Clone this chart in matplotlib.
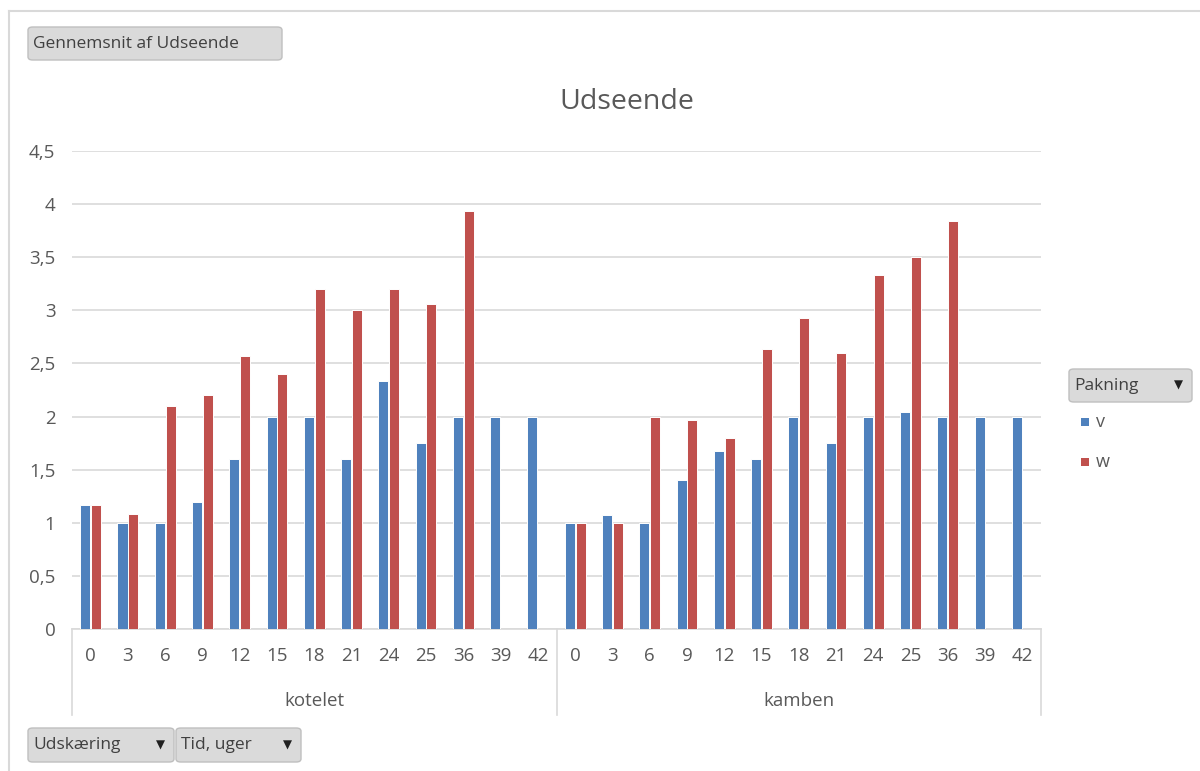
import numpy as np
import matplotlib
matplotlib.use("Agg")
import matplotlib.pyplot as plt
from matplotlib.patches import FancyBboxPatch, Rectangle
from matplotlib.lines import Line2D

plt.rcParams['font.family'] = ['Open Sans', 'DejaVu Sans']

# data
groups = ["kotelet", "kamben"]
weeks = ["0", "3", "6", "9", "12", "15", "18", "21", "24", "25", "36", "39", "42"]
kotelet_v = [1.167, 1.0, 1.0, 1.2, 1.6, 2.0, 2.0, 1.6, 2.333, 1.75, 2.0, 2.0, 2.0]
kotelet_w = [1.167, 1.083, 2.1, 2.2, 2.567, 2.4, 3.2, 3.0, 3.2, 3.055, 3.933, np.nan, np.nan]
kamben_v = [1.0, 1.075, 1.0, 1.4, 1.675, 1.6, 2.0, 1.75, 2.0, 2.04, 2.0, 2.0, 2.0]
kamben_w = [1.0, 1.0, 2.0, 1.967, 1.8, 2.64, 2.925, 2.6, 3.333, 3.5, 3.837, np.nan, np.nan]

BLUE = "#4F81BD"
RED = "#C0504D"
TXT = "#595959"
GRID = "#D9D9D9"

W, H = 1200, 771
fig = plt.figure(figsize=(W / 100, H / 100), dpi=100)


def fx(px):
    return px / W


def fy(py):
    return 1 - py / H


ax = fig.add_axes([fx(72), fy(629), fx(1041) - fx(72), fy(151) - fy(629)])

v = np.array(kotelet_v + kamben_v, dtype=float)
w = np.array(kotelet_w + kamben_w, dtype=float)
x = np.arange(len(v))
bw = 0.27
ax.bar(x - 0.145, v, bw, color=BLUE, edgecolor="white", linewidth=0.7, zorder=3)
ax.bar(x + 0.145, w, bw, color=RED, edgecolor="white", linewidth=0.7, zorder=3)

ax.set_xlim(-0.5, len(v) - 0.5)
ax.set_ylim(0, 4.5)
yt = np.arange(0, 4.51, 0.5)
ax.set_yticks(yt)
ax.set_yticklabels([f"{t:g}".replace(".", ",") for t in yt])
ax.yaxis.grid(True, color=GRID, linewidth=1.2, zorder=0)
ax.set_axisbelow(True)
ax.set_xticks(x)
ax.set_xticklabels(weeks * 2)
ax.tick_params(axis="both", length=0, labelsize=13.5, colors=TXT)
ax.tick_params(axis="x", pad=13)
ax.tick_params(axis="y", pad=12)
for s in ["top", "right", "left"]:
    ax.spines[s].set_visible(False)
ax.spines["bottom"].set_color(GRID)
ax.spines["bottom"].set_linewidth(1.2)

# group separators and labels
depth = (715 - 629) / (629 - 151)
for xs in [0, 0.5, 1]:
    ax.add_line(Line2D([xs, xs], [0, -depth], transform=ax.transAxes,
                       color=GRID, linewidth=1.2, clip_on=False))
for i, g in enumerate(groups):
    ax.text(0.25 + 0.5 * i, -(701 - 629) / (629 - 151), g, transform=ax.transAxes,
            ha="center", va="center", fontsize=13.5, color=TXT)

fig.text(fx(627), fy(102), "Udseende", ha="center", va="center", fontsize=20.5, color=TXT)

# outer chart border
fig.add_artist(Line2D([fx(9), fx(1200)], [fy(11), fy(11)], color="#D9D9D9", linewidth=1.5))
fig.add_artist(Line2D([fx(9), fx(9)], [fy(11), fy(771)], color="#D9D9D9", linewidth=1.5))


def button(x0, y0, x1, y1, label, arrow=False):
    fig.add_artist(FancyBboxPatch((fx(x0), fy(y1)), fx(x1) - fx(x0), fy(y0) - fy(y1),
                                  boxstyle="round,pad=0,rounding_size=0.004",
                                  facecolor="#DADADA", edgecolor="#BFBFBF",
                                  linewidth=1.0, transform=fig.transFigure))
    fig.text(fx(x0 + 5), fy((y0 + y1) / 2), label, ha="left", va="center",
             fontsize=12.5, color="#404040")
    if arrow:
        fig.text(fx(x1 - 14), fy((y0 + y1) / 2), "\u25bc", ha="center", va="center",
                 fontsize=8.5, color="#202020", family="DejaVu Sans")


button(28, 27, 282, 60, "Gennemsnit af Udseende")
button(1069, 369, 1192, 402, "Pakning", arrow=True)
button(28, 728, 174, 762, "Udsk\u00e6ring", arrow=True)
button(176, 728, 301, 762, "Tid, uger", arrow=True)

# legend
for py, col, lab in [(422, BLUE, "v"), (462, RED, "w")]:
    fig.add_artist(Rectangle((fx(1081), fy(py + 4)), fx(8), fy(0) - fy(8),
                             facecolor=col, edgecolor="none", transform=fig.transFigure))
    fig.text(fx(1096), fy(py), lab, ha="left", va="center", fontsize=13, color=TXT)

fig.savefig("out.png", dpi=100)
